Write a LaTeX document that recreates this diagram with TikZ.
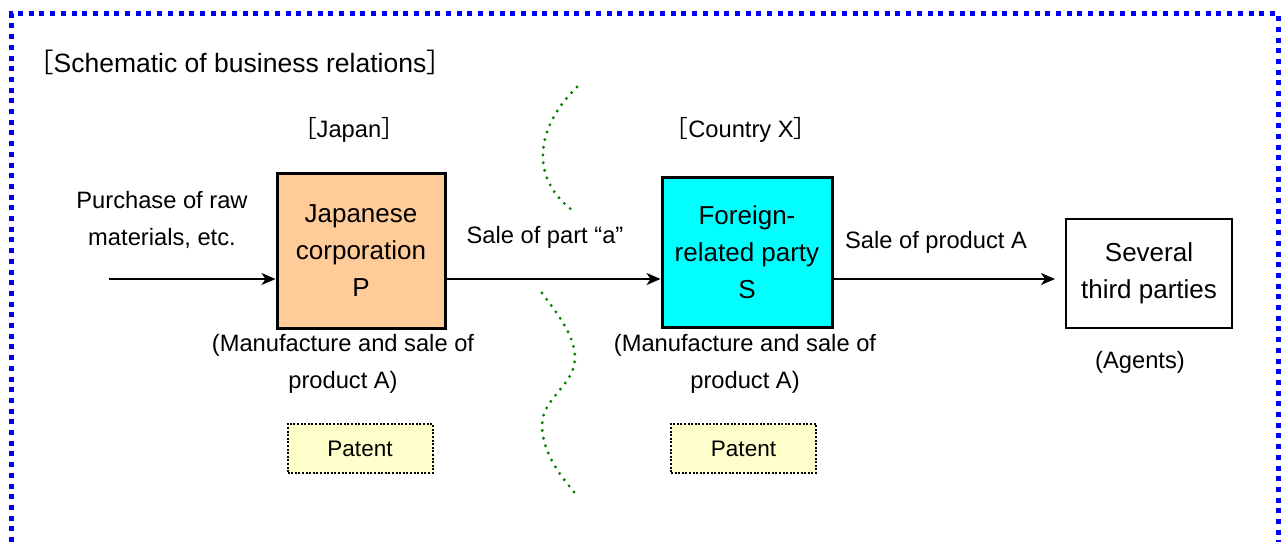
\documentclass[tikz,border=0pt]{standalone}
\usepackage{fontspec}
\setmainfont{Liberation Sans}
\newfontfamily\cjkfont{Noto Sans CJK JP}
\usetikzlibrary{arrows.meta}
\definecolor{tanfill}{HTML}{FFCC99}
\definecolor{cyanfill}{HTML}{00FFFF}
\definecolor{patentfill}{HTML}{FFFFCC}
\definecolor{bordergreen}{HTML}{008000}
\definecolor{frameblue}{HTML}{0000FF}
\begin{document}
\begin{tikzpicture}[x=1pt,y=-1pt,
  lbl/.style={font=\fontsize{23.7}{37}\selectfont, align=center, inner sep=0pt},
  entity/.style={draw=black, line width=3pt, font=\fontsize{26}{37}\selectfont, align=center, inner sep=0pt},
  plainbox/.style={draw=black, line width=2pt, font=\fontsize{26}{37}\selectfont, align=center, inner sep=0pt},
  patentbox/.style={draw=black, fill=patentfill, line width=2pt, dash pattern=on 2pt off 1.6pt, minimum width=145pt, minimum height=49pt, font=\fontsize{22.5}{27}\selectfont, inner sep=0pt},
  arr/.style={draw=black, line width=2pt, -{Stealth[length=14pt,width=12pt,inset=4pt]}},
  border/.style={draw=bordergreen, line width=3.2pt, line cap=round, dash pattern=on 0pt off 7.8pt},
  frame/.style={draw=frameblue, line width=5pt, dash pattern=on 5pt off 5.7pt}
]
\useasboundingbox (0,0) rectangle (1283,542);
\fill[white] (0,0) rectangle (1283,542);

% outer frame (open at the bottom)
\draw[frame] (11.5,542) -- (11.5,13.5) -- (1278,13.5) -- (1278,542);

% titles
\node[lbl, font=\fontsize{26.5}{30}\selectfont] (title) at (240,62) {{\cjkfont ［}Schematic of business relations{\cjkfont ］}};
\node[lbl] (japan) at (349,130) {{\cjkfont ［}Japan{\cjkfont ］}};
\node[lbl] (country) at (741,130) {{\cjkfont ［}Country X{\cjkfont ］}};

% boxes
\node[entity, fill=tanfill, minimum width=168pt, minimum height=155pt] (P) at (361,250.5) {Japanese\\corporation\\P};
\node[entity, fill=cyanfill, minimum width=170pt, minimum height=150pt] (S) at (747,252) {Foreign-\\related party\\S};
\node[plainbox, minimum width=166pt, minimum height=109pt] (T) at (1149,273.5) {Several\\third parties};

% connectors
\coordinate (start) at (109,279);
\coordinate (end3) at (1055,279);
\draw[arr] (start) -- (start -| P.west);
\draw[arr] (P.east |- start) -- (S.west |- start);
\draw[arr] (S.east |- start) -- (end3);

% connector labels
\node[lbl] (purch) at (162,220) {Purchase of raw\\materials, etc.};
\node[lbl] (salea) at (545,237) {Sale of part “a”};
\node[lbl] (saleA) at (936,242) {Sale of product A};

% descriptions
\node[lbl] (mfgP) at (343,364) {(Manufacture and sale of\\product A)};
\node[lbl] (mfgS) at (745,364) {(Manufacture and sale of\\product A)};
\node[lbl] (agents) at (1140,362) {(Agents)};

% patents
\node[patentbox] (patP) at (360,448.5) {Patent};
\node[patentbox] (patS) at (743.5,448.5) {Patent};

% border lines
\draw[border] (577,87) .. controls (535,128) and (530,178) .. (572,210);
\draw[border] (542,293) .. controls (556,312) and (575,335) .. (575,358)
  .. controls (575,385) and (542,398) .. (542,425)
  .. controls (542,452) and (560,475) .. (574,492);
\end{tikzpicture}
\end{document}
